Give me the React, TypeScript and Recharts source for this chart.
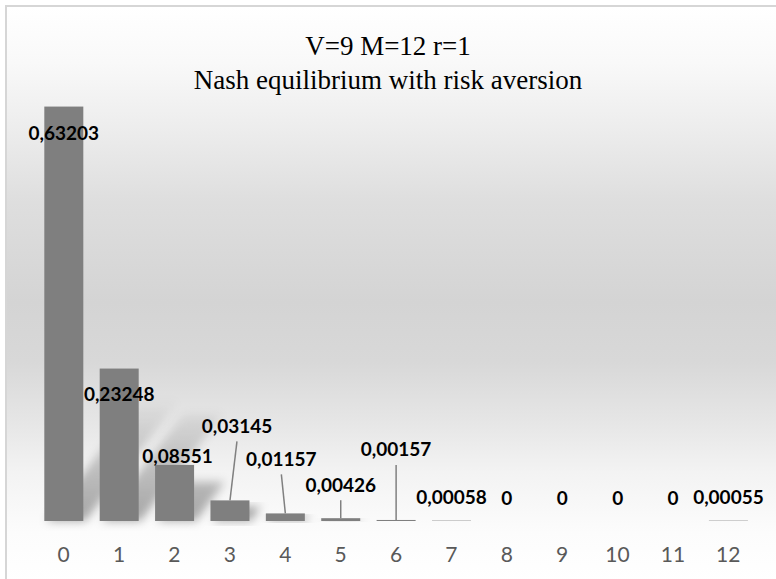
import React from 'react'
import { BarChart, Bar, XAxis, YAxis, LabelList } from 'recharts'

const categories = ['0', '1', '2', '3', '4', '5', '6', '7', '8', '9', '10', '11', '12']
const probabilities = [0.63203, 0.23248, 0.08551, 0.03145, 0.01157, 0.00426, 0.00157, 0.00058, 0, 0, 0, 0, 0.00055]

// the labels were dragged by hand in the original, offsets from the top-centre of each bar
const labelDx = [0, 0, 3, 7, -4, 0, 0, 0, 0, 0, 0, 0, 0]
const labelDy = [26, 25, -9, -75, -55, -34, -71, -24, -24, -24, -24, -24, -24]
const hasLeader = [false, false, false, true, true, true, true, false, false, false, false, false, false]

const data = categories.map((c, i) => ({ name: c, p: probabilities[i] }))

function fmt(v: number) {
  return v === 0 ? '0' : String(v).replace('.', ',')
}

function BarLabel(props: any) {
  const { x, y, width, index, value } = props
  const cx = x + width / 2
  const lx = cx + labelDx[index]
  const ly = y + labelDy[index]
  return (
    <g>
      {hasLeader[index] && (
        <line x1={lx} y1={ly + 16} x2={cx} y2={y} stroke="#808080" strokeWidth={1.5} />
      )}
      <text
        x={lx}
        y={ly}
        textAnchor="middle"
        dominantBaseline="central"
        style={{ fontFamily: 'Lato, "Open Sans", sans-serif', fontSize: 19, fontWeight: 700, fill: '#000' }}
      >
        {fmt(value)}
      </text>
    </g>
  )
}

// excel's perspective shadow, faded out a short way above the baseline
function ShadowBar(props: any) {
  const { x, y, width, height, fill } = props
  const base = y + height
  const kx = 0.55
  const ky = 0.7
  const pts = [
    [x + 2, base],
    [x + width + 2, base],
    [x + width + kx * height, base - ky * height],
    [x + kx * height, base - ky * height],
  ]
  return (
    <g>
      {height > 2 && (
        <polygon
          points={pts.map((p) => p.join(',')).join(' ')}
          fill="url(#shadowFade)"
          filter="url(#shadowBlur)"
        />
      )}
      <rect x={x} y={y} width={width} height={Math.max(height, 0)} fill={fill} />
    </g>
  )
}

function Tick(props: any) {
  const { x, y, payload } = props
  return (
    <text
      x={x}
      y={y + 30}
      textAnchor="middle"
      dominantBaseline="central"
      style={{ fontFamily: 'Lato, "Open Sans", sans-serif', fontSize: 21, fill: '#595959' }}
    >
      {payload.value}
    </text>
  )
}

export default function App() {
  return (
    <div style={{ position: 'absolute', left: 0, top: 0, width: 776, height: 579, overflow: 'hidden', background: '#fff' }}>
      <div
        style={{
          position: 'absolute',
          left: 5,
          top: 5,
          width: 800,
          height: 600,
          borderTop: '2px solid #d6d6d6',
          borderLeft: '2px solid #d6d6d6',
          background:
            'linear-gradient(to bottom, #ffffff 0px, #f9f9f9 55px, #ececec 125px, #dedede 195px, #d4d4d4 295px, #d8d8d8 355px, #e6e6e6 415px, #f3f3f3 465px, #fcfcfc 525px, #ffffff 575px)',
        }}
      />
      <div
        style={{
          position: 'absolute',
          left: 0,
          top: 29,
          width: 776,
          textAlign: 'center',
          fontFamily: '"Liberation Serif", "Times New Roman", serif',
          fontSize: 27,
          lineHeight: '34px',
          color: '#000',
        }}
      >
        <div>V=9 M=12 r=1</div>
        <div>Nash equilibrium with risk aversion</div>
      </div>
      <div style={{ position: 'absolute', left: 0, top: 0 }}>
        <BarChart width={776} height={579} data={data} margin={{ top: 62, right: 20, bottom: 18, left: 36 }} barCategoryGap="15%">
          <defs>
            <linearGradient id="shadowFade" gradientUnits="userSpaceOnUse" x1="0" y1="521" x2="0" y2="398">
              <stop offset="0%" stopColor="#000" stopOpacity={0.34} />
              <stop offset="55%" stopColor="#000" stopOpacity={0.18} />
              <stop offset="100%" stopColor="#000" stopOpacity={0} />
            </linearGradient>
            <filter id="shadowBlur" x="-30%" y="-30%" width="160%" height="160%">
              <feGaussianBlur stdDeviation={5} />
            </filter>
          </defs>
          <XAxis dataKey="name" height={40} axisLine={false} tickLine={false} tickSize={0} tick={<Tick />} interval={0} />
          <YAxis hide domain={[0, 0.7]} />
          <Bar dataKey="p" fill="#7f7f7f" shape={<ShadowBar />} isAnimationActive={false}>
            <LabelList dataKey="p" content={<BarLabel />} />
          </Bar>
        </BarChart>
      </div>
    </div>
  )
}
